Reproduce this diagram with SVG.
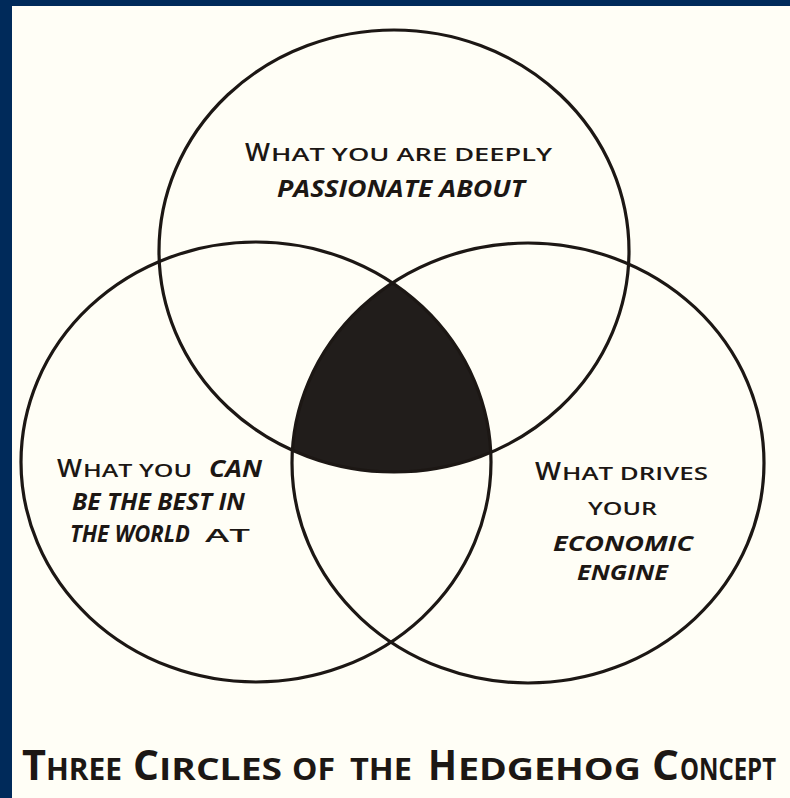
<svg xmlns="http://www.w3.org/2000/svg" width="790" height="798" viewBox="0 0 790 798">
<style>
.ring{fill:none;stroke:#1c1714;stroke-width:3.2}
.t{font-family:"Open Sans","Liberation Sans",sans-serif;fill:#1c1714}
.big{font-size:25px;font-weight:600}
.sc{font-size:17.5px;font-weight:600}
.bi{font-size:23px;font-weight:700;font-style:italic}
.bs{font-size:21px;font-weight:700;font-style:italic}
.tb{font-size:41px;font-weight:700}
.ts{font-size:30px;font-weight:700}
</style>
<defs>
<clipPath id="cL"><ellipse cx="256" cy="462" rx="235" ry="220"/></clipPath>
<clipPath id="cR"><ellipse cx="528" cy="463" rx="236" ry="220"/></clipPath>
</defs>
<rect x="0" y="0" width="790" height="798" fill="#fffef6"/>
<rect x="0" y="0" width="790" height="6" fill="#002a5a"/>
<rect x="0" y="0" width="12" height="798" fill="#002a5a"/>

<g id="center">
<g clip-path="url(#cL)"><ellipse cx="394" cy="251" rx="235" ry="221" fill="#211d1b" clip-path="url(#cR)"/></g>
</g>

<g id="passion">
<ellipse class="ring" cx="394" cy="251" rx="235" ry="221"/>
<text class="t big" x="245" y="161" textLength="25" lengthAdjust="spacingAndGlyphs">W</text>
<text class="t sc" x="271" y="161" textLength="281" lengthAdjust="spacingAndGlyphs">HAT YOU ARE DEEPLY</text>
<text class="t bi" x="277" y="197" textLength="248" lengthAdjust="spacingAndGlyphs">PASSIONATE ABOUT</text>
</g>

<g id="best">
<ellipse class="ring" cx="256" cy="462" rx="235" ry="220"/>
<text class="t big" x="57" y="477" textLength="25" lengthAdjust="spacingAndGlyphs">W</text>
<text class="t sc" x="83" y="477" textLength="109" lengthAdjust="spacingAndGlyphs">HAT YOU</text>
<text class="t bi" x="209" y="477" textLength="53" lengthAdjust="spacingAndGlyphs">CAN</text>
<text class="t bi" x="72" y="510" textLength="173" lengthAdjust="spacingAndGlyphs">BE THE BEST IN</text>
<text class="t bi" x="70" y="542" textLength="120" lengthAdjust="spacingAndGlyphs">THE WORLD</text>
<text class="t sc" x="205" y="542" textLength="45" lengthAdjust="spacingAndGlyphs">AT</text>
</g>

<g id="economic">
<ellipse class="ring" cx="528" cy="463" rx="236" ry="220"/>
<text class="t big" x="535" y="480" textLength="26" lengthAdjust="spacingAndGlyphs">W</text>
<text class="t sc" x="562" y="480" textLength="146" lengthAdjust="spacingAndGlyphs">HAT DRIVES</text>
<text class="t sc" x="588" y="515" textLength="69" lengthAdjust="spacingAndGlyphs">YOUR</text>
<text class="t bs" x="553" y="551" textLength="140" lengthAdjust="spacingAndGlyphs">ECONOMIC</text>
<text class="t bs" x="577" y="580" textLength="91" lengthAdjust="spacingAndGlyphs">ENGINE</text>
</g>

<g id="title">
<text class="t tb" x="22" y="780" textLength="24" lengthAdjust="spacingAndGlyphs">T</text>
<text class="t ts" x="46" y="780" textLength="76" lengthAdjust="spacingAndGlyphs">HREE</text>
<text class="t tb" x="133" y="780" textLength="26" lengthAdjust="spacingAndGlyphs">C</text>
<text class="t ts" x="159" y="780" textLength="123" lengthAdjust="spacingAndGlyphs">IRCLES</text>
<text class="t ts" x="292" y="780" textLength="43" lengthAdjust="spacingAndGlyphs">OF</text>
<text class="t ts" x="350" y="780" textLength="62" lengthAdjust="spacingAndGlyphs">THE</text>
<text class="t tb" x="428" y="780" textLength="29" lengthAdjust="spacingAndGlyphs">H</text>
<text class="t ts" x="458" y="780" textLength="183" lengthAdjust="spacingAndGlyphs">EDGEHOG</text>
<text class="t tb" x="652" y="780" textLength="27" lengthAdjust="spacingAndGlyphs">C</text>
<text class="t ts" x="680" y="780" textLength="96" lengthAdjust="spacingAndGlyphs">ONCEPT</text>
</g>
</svg>
